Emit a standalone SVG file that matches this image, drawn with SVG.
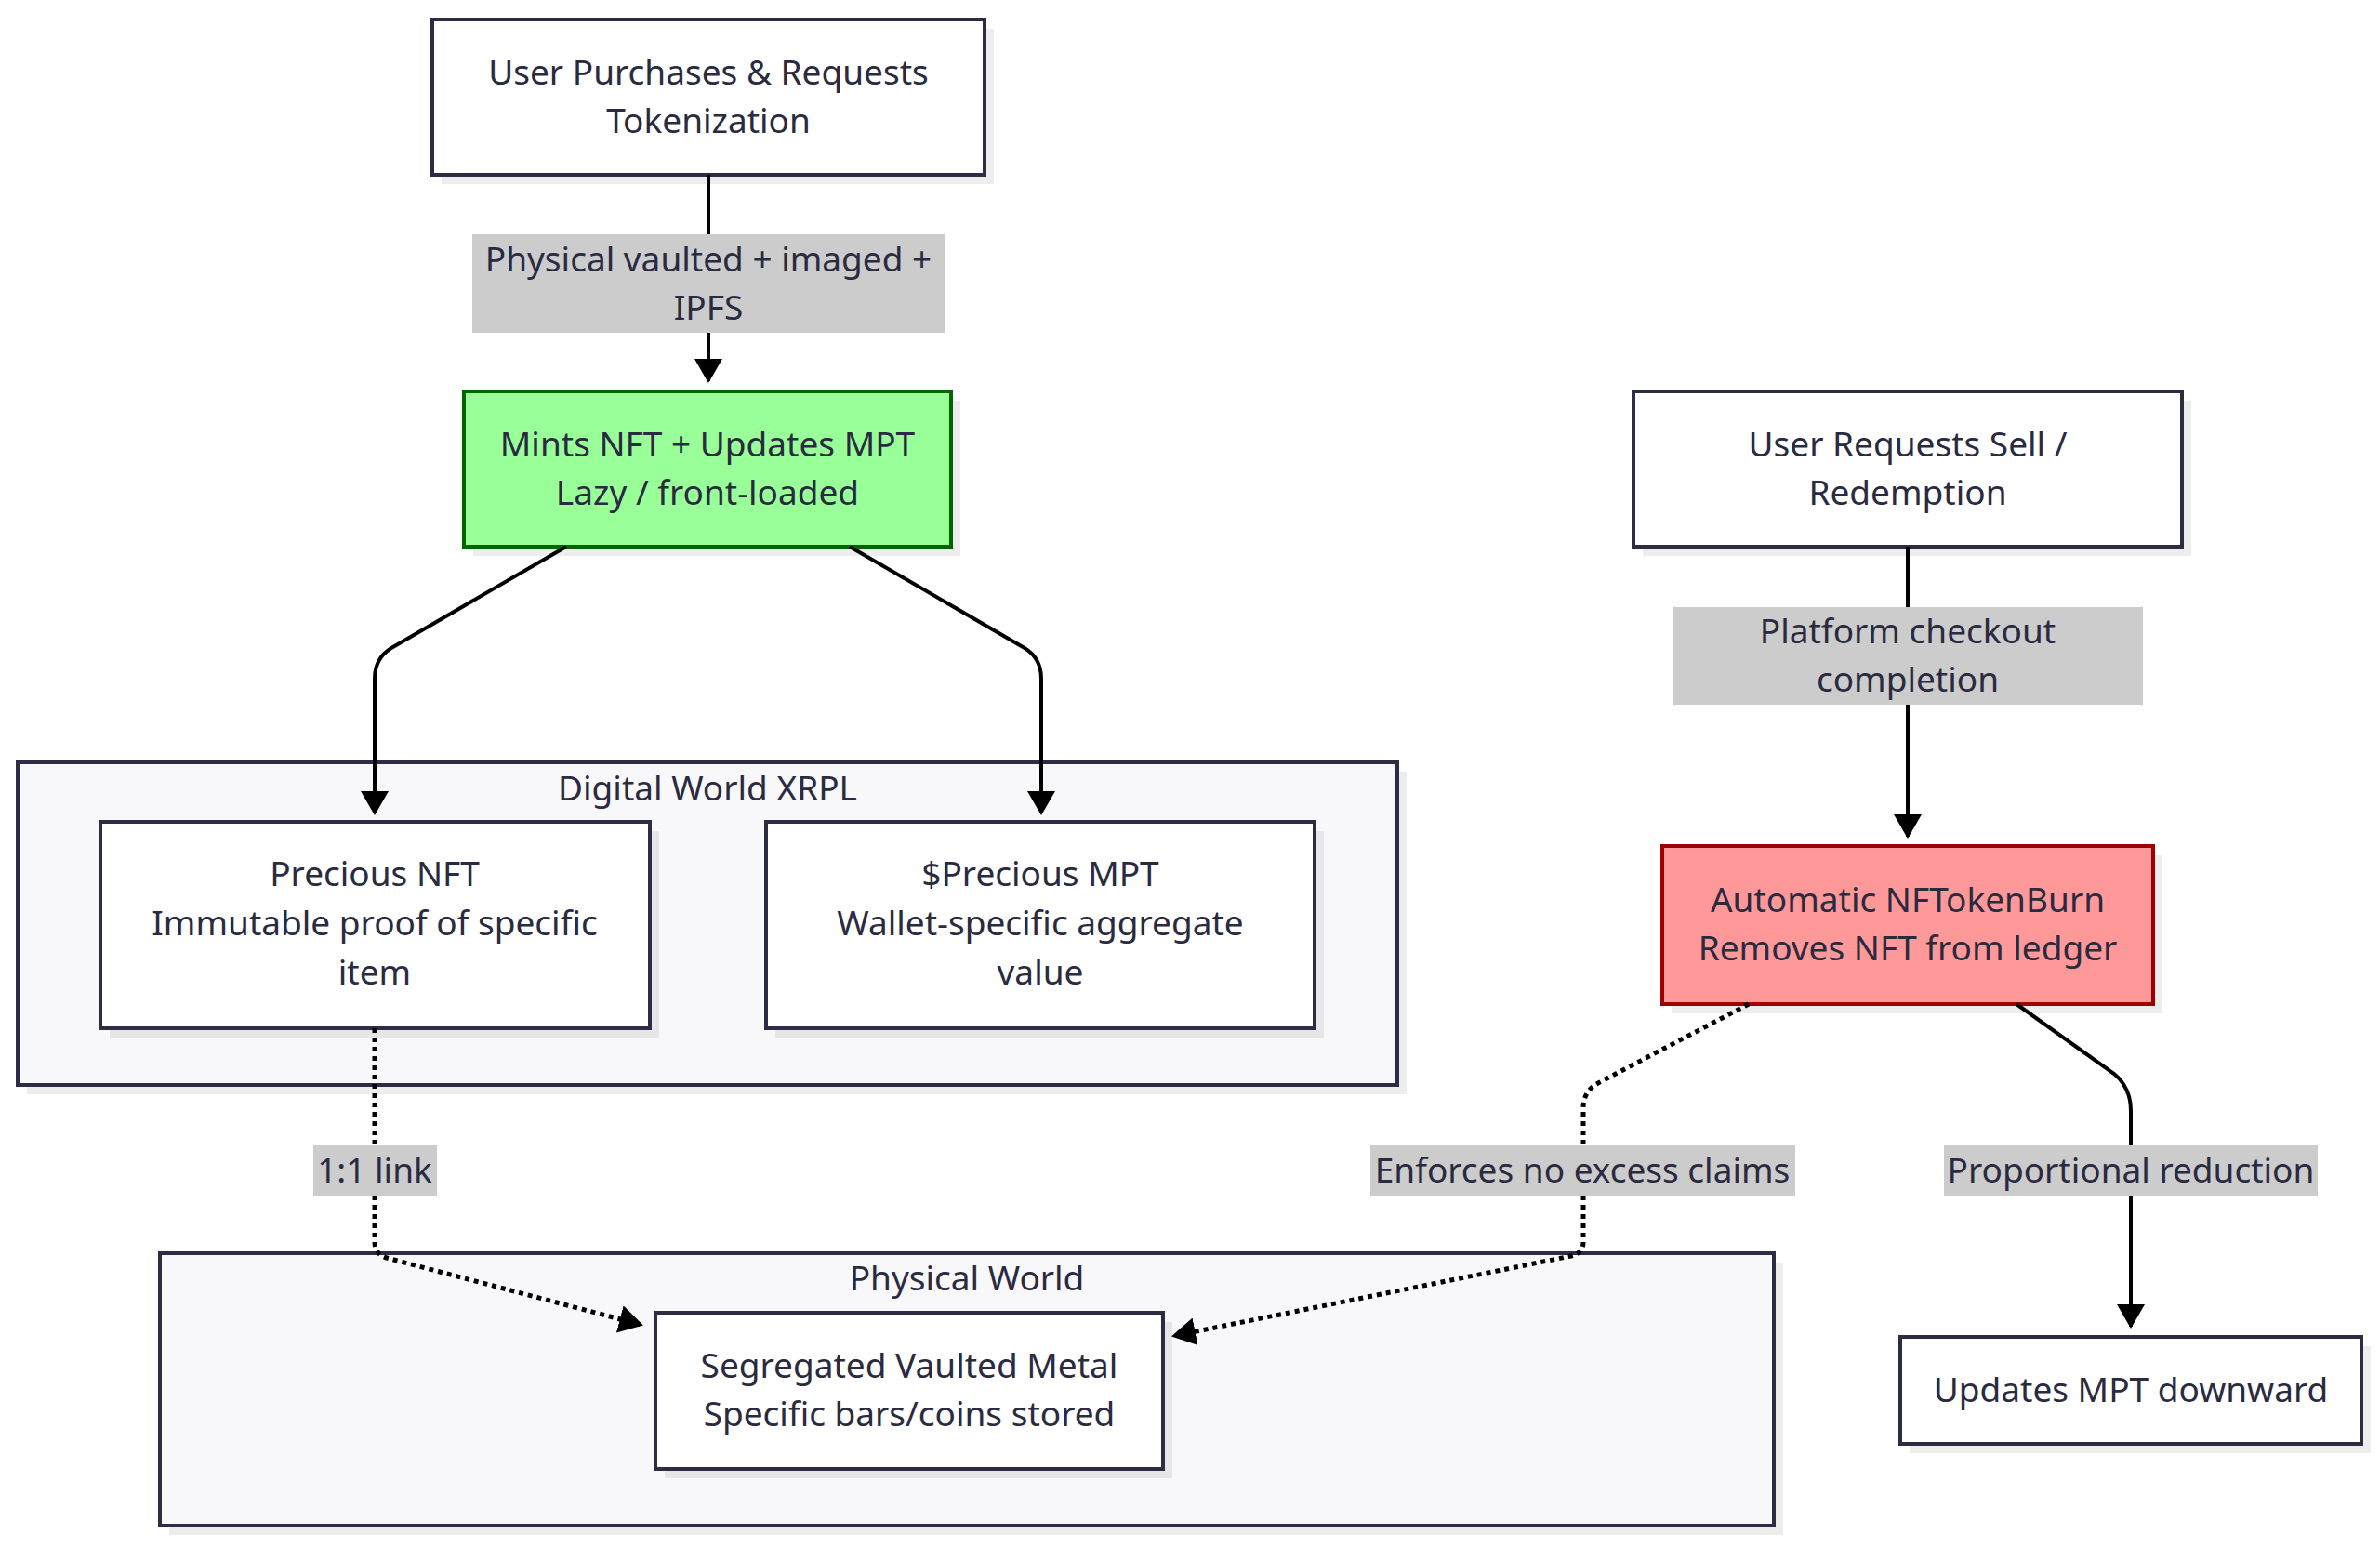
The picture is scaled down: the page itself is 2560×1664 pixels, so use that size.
<svg xmlns="http://www.w3.org/2000/svg" width="2560" height="1664" viewBox="0 0 2560 1664">
<defs>
<marker id="arr" viewBox="0 0 26 30" refX="24" refY="15" markerWidth="26" markerHeight="30" markerUnits="userSpaceOnUse" orient="auto">
<path d="M0,0 L26,15 L0,30 z" fill="#000"/>
</marker>
</defs>
<style>
text{font-family:"Noto Sans","Liberation Sans",sans-serif;font-size:37px;fill:#2a2a40;text-anchor:middle}
.shadow{fill:#000;opacity:0.07}
.node{fill:#fff;stroke:#2c2c44;stroke-width:4}
.cluster{fill:#f8f8fa;stroke:#2c2c44;stroke-width:4}
.green{fill:#99ff99;stroke:#006400;stroke-width:4}
.red{fill:#ff9999;stroke:#a00000;stroke-width:4}
.lbl{fill:#cccccc}
.edge{fill:none;stroke:#000;stroke-width:4;marker-end:url(#arr)}
.dot{stroke-width:5;stroke-dasharray:5 5}
</style>
<rect width="2560" height="1664" fill="#fff"/>

<g id="cluster-digital">
<rect class="shadow" x="29" y="830" width="1484" height="347"/>
<rect class="cluster" x="19" y="820" width="1484" height="347"/>
<text x="761" y="861">Digital World XRPL</text>
</g>
<g id="cluster-physical">
<rect class="shadow" x="182" y="1358" width="1736" height="293"/>
<rect class="cluster" x="172" y="1348" width="1736" height="293"/>
<text x="1040" y="1388">Physical World</text>
</g>

<g id="n-purchase">
<rect class="shadow" x="475" y="31" width="594" height="167"/>
<rect class="node" x="465" y="21" width="594" height="167"/>
<text x="762" y="91">User Purchases &amp; Requests</text>
<text x="762" y="143">Tokenization</text>
</g>
<g id="n-mint">
<rect class="shadow" x="509" y="431" width="524" height="167"/>
<rect class="green" x="499" y="421" width="524" height="167"/>
<text x="761" y="491">Mints NFT + Updates MPT</text>
<text x="761" y="543">Lazy / front-loaded</text>
</g>
<g id="n-nft">
<rect class="shadow" x="118" y="894" width="591" height="222"/>
<rect class="node" x="108" y="884" width="591" height="222"/>
<text x="403" y="953">Precious NFT</text>
<text x="403" y="1006">Immutable proof of specific</text>
<text x="403" y="1059">item</text>
</g>
<g id="n-mpt">
<rect class="shadow" x="834" y="894" width="590" height="222"/>
<rect class="node" x="824" y="884" width="590" height="222"/>
<text x="1119" y="953">$Precious MPT</text>
<text x="1119" y="1006">Wallet-specific aggregate</text>
<text x="1119" y="1059">value</text>
</g>
<g id="n-vault">
<rect class="shadow" x="715" y="1422" width="546" height="168"/>
<rect class="node" x="705" y="1412" width="546" height="168"/>
<text x="978" y="1482">Segregated Vaulted Metal</text>
<text x="978" y="1534">Specific bars/coins stored</text>
</g>
<g id="n-sell">
<rect class="shadow" x="1767" y="431" width="590" height="167"/>
<rect class="node" x="1757" y="421" width="590" height="167"/>
<text x="2052" y="491">User Requests Sell /</text>
<text x="2052" y="543">Redemption</text>
</g>
<g id="n-burn">
<rect class="shadow" x="1798" y="920" width="528" height="170"/>
<rect class="red" x="1788" y="910" width="528" height="170"/>
<text x="2052" y="981">Automatic NFTokenBurn</text>
<text x="2052" y="1033">Removes NFT from ledger</text>
</g>
<g id="n-update">
<rect class="shadow" x="2054" y="1448" width="496" height="115"/>
<rect class="node" x="2044" y="1438" width="496" height="115"/>
<text x="2292" y="1508">Updates MPT downward</text>
</g>

<g id="connectors">
<path class="edge" d="M762,188 L762,410"/>
<path class="edge" d="M609,588 L421,697 Q403,708 403,730 L403,875"/>
<path class="edge" d="M914,588 L1102,697 Q1120,708 1120,730 L1120,875"/>
<path class="edge" d="M2052,588 L2052,900"/>
<path class="edge dot" d="M403,1106 L403,1336 Q403,1349 416,1353 L690,1425"/>
<path class="edge dot" d="M1881,1080 L1717,1166 Q1703,1175 1703,1192 L1703,1336 Q1703,1348 1690,1351 L1262,1437"/>
<path class="edge" d="M2169,1080 L2274,1155 Q2292,1170 2292,1195 L2292,1427"/>
</g>

<g id="edge-labels">
<rect class="lbl" x="508" y="252" width="509" height="106"/>
<text x="762" y="292">Physical vaulted + imaged +</text>
<text x="762" y="344">IPFS</text>
<rect class="lbl" x="1799" y="653" width="506" height="105"/>
<text x="2052" y="692">Platform checkout</text>
<text x="2052" y="744">completion</text>
<rect class="lbl" x="337" y="1232" width="133" height="54"/>
<text x="403" y="1272">1:1 link</text>
<rect class="lbl" x="1474" y="1232" width="457" height="54"/>
<text x="1702" y="1272">Enforces no excess claims</text>
<rect class="lbl" x="2091" y="1232" width="402" height="54"/>
<text x="2292" y="1272">Proportional reduction</text>
</g>
</svg>
